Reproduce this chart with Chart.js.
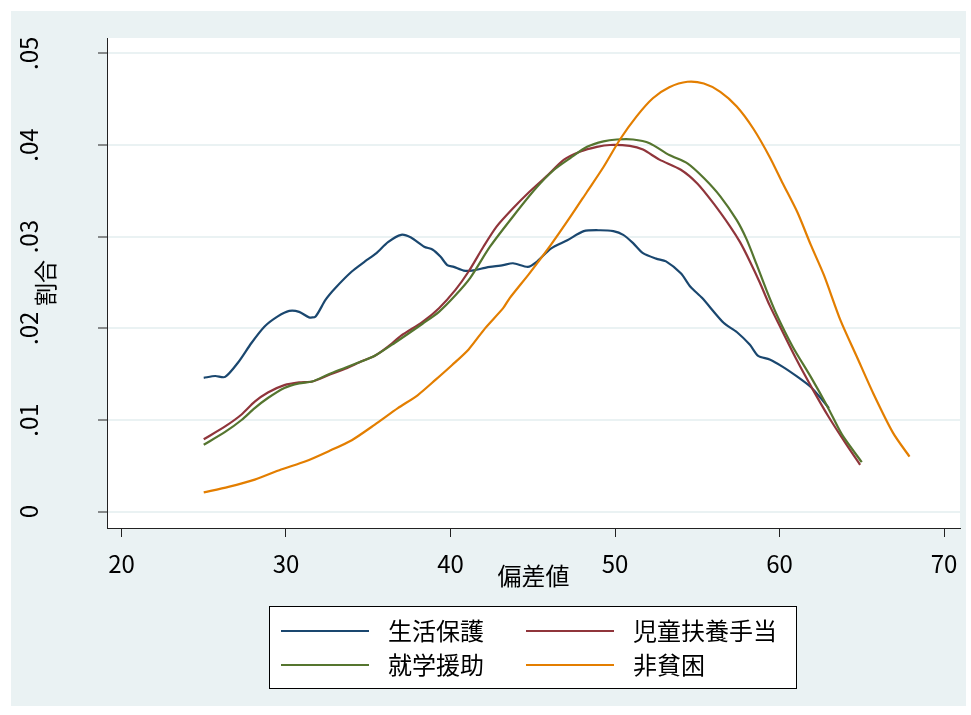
<!DOCTYPE html>
<html lang="ja">
<head>
<meta charset="utf-8">
<title>偏差値別の割合</title>
<script src="https://cdn.jsdelivr.net/npm/chart.js@4.4.1/dist/chart.umd.min.js"></script>
<style>
  html, body { margin: 0; padding: 0; background: #ffffff; }
  canvas { display: block; }
</style>
</head>
<body>
<canvas id="chart" width="971" height="715"></canvas>
<script>
// Series names (legend order)
const seriesNames = ['生活保護', '児童扶養手当', '就学援助', '非貧困'];
const seriesColors = ['#1a476f', '#90353b', '#55752f', '#e37e00'];

// 生活保護
const xSeikatsu = [25.0, 25.7, 26.3, 27.1, 27.9, 28.7, 29.5, 30.2, 30.8, 31.4, 31.8, 32.4, 33.0, 34.0, 34.8, 35.5, 36.2, 37.0, 37.6, 38.4, 38.9, 39.4, 39.8, 40.2, 40.8, 41.3, 42.1, 42.4, 43.2, 43.8, 44.7, 45.2, 46.1, 47.1, 48.1, 49.1, 49.9, 50.5, 51.1, 51.7, 52.5, 53.1, 54.0, 54.6, 55.3, 56.6, 57.4, 58.2, 58.7, 59.4, 60.2, 61.1, 61.9, 62.5, 63.0];
const ySeikatsu = [0.0146, 0.0148, 0.0147, 0.0163, 0.0184, 0.0202, 0.0213, 0.0219, 0.0218, 0.0212, 0.0213, 0.0231, 0.0244, 0.0262, 0.0273, 0.0282, 0.0294, 0.0302, 0.0299, 0.0289, 0.0286, 0.0278, 0.0269, 0.0267, 0.0263, 0.0263, 0.0266, 0.0267, 0.0269, 0.0271, 0.0267, 0.0272, 0.0287, 0.0296, 0.0306, 0.0307, 0.0306, 0.0302, 0.0293, 0.0282, 0.0276, 0.0273, 0.0260, 0.0245, 0.0233, 0.0206, 0.0196, 0.0182, 0.0170, 0.0166, 0.0158, 0.0147, 0.0136, 0.0124, 0.0113];

// 児童扶養手当
const xJido = [25.0, 26.3, 27.3, 28.1, 28.9, 29.9, 30.8, 31.6, 32.6, 33.6, 34.6, 35.4, 36.2, 37.0, 38.3, 39.3, 40.3, 41.1, 42.0, 42.8, 43.8, 44.8, 45.9, 46.9, 47.9, 48.9, 49.7, 50.9, 51.7, 52.7, 54.0, 55.0, 56.0, 57.0, 57.6, 58.2, 58.8, 59.4, 60.0, 61.0, 62.0, 63.0, 64.0, 64.9];
const yJido = [0.0079, 0.0093, 0.0106, 0.0120, 0.0130, 0.0138, 0.0141, 0.0142, 0.0149, 0.0156, 0.0164, 0.0170, 0.0180, 0.0192, 0.0207, 0.0222, 0.0242, 0.0262, 0.0289, 0.0311, 0.0331, 0.0349, 0.0367, 0.0384, 0.0393, 0.0398, 0.0400, 0.0399, 0.0395, 0.0384, 0.0373, 0.0358, 0.0336, 0.0311, 0.0294, 0.0273, 0.0250, 0.0225, 0.0203, 0.0167, 0.0134, 0.0103, 0.0075, 0.0051];

// 就学援助
const xShugaku = [25.0, 26.3, 27.3, 28.1, 28.9, 29.9, 30.8, 31.6, 32.6, 33.6, 34.6, 35.4, 36.6, 38.3, 39.3, 40.3, 41.2, 42.4, 43.8, 45.2, 46.3, 47.3, 48.3, 49.3, 50.1, 51.1, 52.1, 53.3, 54.4, 55.4, 56.4, 57.4, 58.0, 58.6, 59.2, 59.8, 60.8, 61.9, 62.9, 63.8, 65.0];
const yShugaku = [0.0073, 0.0087, 0.0100, 0.0113, 0.0124, 0.0135, 0.0140, 0.0142, 0.0150, 0.0157, 0.0164, 0.0170, 0.0184, 0.0205, 0.0218, 0.0236, 0.0255, 0.0289, 0.0322, 0.0353, 0.0373, 0.0386, 0.0398, 0.0404, 0.0406, 0.0406, 0.0402, 0.0389, 0.0380, 0.0364, 0.0344, 0.0318, 0.0297, 0.0270, 0.0242, 0.0216, 0.0180, 0.0147, 0.0115, 0.0084, 0.0054];

// 非貧困
const xHihinkon = [25.0, 26.5, 28.1, 29.7, 31.2, 32.6, 34.0, 35.4, 36.8, 38.0, 39.1, 40.1, 41.1, 42.1, 43.2, 43.6, 44.8, 46.1, 47.3, 48.3, 49.3, 50.3, 51.3, 52.3, 53.3, 54.4, 55.4, 56.4, 57.4, 58.4, 59.4, 60.2, 61.1, 61.9, 62.7, 63.7, 64.7, 65.7, 66.9, 67.9];
const yHihinkon = [0.0021, 0.0027, 0.0035, 0.0046, 0.0055, 0.0066, 0.0078, 0.0095, 0.0113, 0.0127, 0.0144, 0.0160, 0.0177, 0.0200, 0.0222, 0.0233, 0.0260, 0.0291, 0.0322, 0.0349, 0.0376, 0.0406, 0.0431, 0.0451, 0.0463, 0.0469, 0.0467, 0.0458, 0.0442, 0.0418, 0.0387, 0.0358, 0.0326, 0.0291, 0.0258, 0.0209, 0.0169, 0.0129, 0.0086, 0.0060];

// Axis ticks
const xTickValues = [20, 30, 40, 50, 60, 70];
const yTickValues = [0, 0.01, 0.02, 0.03, 0.04, 0.05];
const yTickLabels = ['0', '.01', '.02', '.03', '.04', '.05'];

const xSeries = [xSeikatsu, xJido, xShugaku, xHihinkon];
const ySeries = [ySeikatsu, yJido, yShugaku, yHihinkon];

const FONT = '"Noto Sans CJK JP", "Noto Sans", sans-serif';
const BG = '#eaf2f3';

const datasets = seriesNames.map((name, i) => ({
  label: name,
  data: xSeries[i].map((x, k) => ({ x: x, y: ySeries[i][k] })),
  borderColor: seriesColors[i],
  backgroundColor: seriesColors[i],
  borderWidth: 2.2,
  pointRadius: 0,
  fill: false,
  tension: 0.25,
  order: seriesNames.length - 1 - i
}));

// Background: white margin, bluish-gray graph region, white plot region
const backgroundPlugin = {
  id: 'graphBackground',
  beforeDraw(chart) {
    const { ctx, chartArea } = chart;
    ctx.save();
    ctx.fillStyle = '#ffffff';
    ctx.fillRect(0, 0, chart.width, chart.height);
    ctx.fillStyle = BG;
    ctx.fillRect(11, 11, 955, 695);
    ctx.fillStyle = '#ffffff';
    ctx.fillRect(chartArea.left, chartArea.top, chartArea.right - chartArea.left, chartArea.bottom - chartArea.top);
    ctx.restore();
  }
};

// Boxed two-column legend below the plot
const boxedLegendPlugin = {
  id: 'boxedLegend',
  afterDraw(chart) {
    const { ctx } = chart;
    const box = { x: 269.5, y: 606.5, w: 527, h: 82 };
    const rowY = [631, 665];
    const lineX = [281, 526];
    const lineLen = 88;
    const textX = [388, 633];
    ctx.save();
    ctx.fillStyle = '#ffffff';
    ctx.fillRect(box.x, box.y, box.w, box.h);
    ctx.strokeStyle = '#000000';
    ctx.lineWidth = 1;
    ctx.strokeRect(box.x, box.y, box.w, box.h);
    ctx.font = '24px ' + FONT;
    ctx.textBaseline = 'middle';
    ctx.textAlign = 'left';
    chart.data.datasets.forEach((ds, i) => {
      const col = i % 2;
      const row = Math.floor(i / 2);
      ctx.strokeStyle = ds.borderColor;
      ctx.lineWidth = 2.2;
      ctx.beginPath();
      ctx.moveTo(lineX[col], rowY[row]);
      ctx.lineTo(lineX[col] + lineLen, rowY[row]);
      ctx.stroke();
      ctx.fillStyle = '#000000';
      ctx.fillText(ds.label, textX[col], rowY[row]);
    });
    ctx.restore();
  }
};

// Keep the plot region fixed: scales take no extra edge padding
function fixPadding(scale) {
  scale.paddingTop = 0;
  scale.paddingBottom = 0;
  scale.paddingLeft = 0;
  scale.paddingRight = 0;
}

new Chart(document.getElementById('chart'), {
  type: 'line',
  data: { datasets: datasets },
  options: {
    responsive: false,
    animation: false,
    layout: { padding: { left: 0, right: 11, top: 38, bottom: 125 } },
    plugins: {
      legend: { display: false },
      tooltip: { enabled: false }
    },
    scales: {
      x: {
        type: 'linear',
        min: 19.12,
        max: 70.97,
        afterBuildTicks: (scale) => { scale.ticks = xTickValues.map(v => ({ value: v })); },
        afterFit: (scale) => { scale.height = 62; fixPadding(scale); },
        grid: {
          drawOnChartArea: false,
          drawTicks: true,
          tickLength: 9,
          tickColor: '#222222',
          tickWidth: 1
        },
        border: { display: true, color: '#222222', width: 1 },
        ticks: {
          color: '#000000',
          font: { family: FONT, size: 24 },
          padding: 12,
          maxRotation: 0,
          minRotation: 0,
          callback: (v) => String(v)
        },
        title: {
          display: true,
          text: '偏差値',
          color: '#000000',
          font: { family: FONT, size: 24 },
          padding: { top: 0, bottom: 0 }
        }
      },
      y: {
        type: 'linear',
        min: -0.00178,
        max: 0.05167,
        afterBuildTicks: (scale) => { scale.ticks = yTickValues.map(v => ({ value: v })); },
        afterFit: (scale) => { scale.width = 107; fixPadding(scale); },
        grid: {
          drawOnChartArea: true,
          color: BG,
          lineWidth: 2,
          drawTicks: true,
          tickLength: 9,
          tickColor: '#222222',
          tickWidth: 1
        },
        border: { display: true, color: '#222222', width: 1 },
        ticks: {
          color: '#000000',
          font: { family: FONT, size: 24 },
          padding: 52,
          minRotation: 90,
          maxRotation: 90,
          crossAlign: 'center',
          callback: (v, i) => yTickLabels[i]
        },
        title: {
          display: true,
          text: '割合',
          color: '#000000',
          font: { family: FONT, size: 23 },
          padding: { top: 31, bottom: 0 }
        }
      }
    }
  },
  plugins: [backgroundPlugin, boxedLegendPlugin]
});
</script>
</body>
</html>
